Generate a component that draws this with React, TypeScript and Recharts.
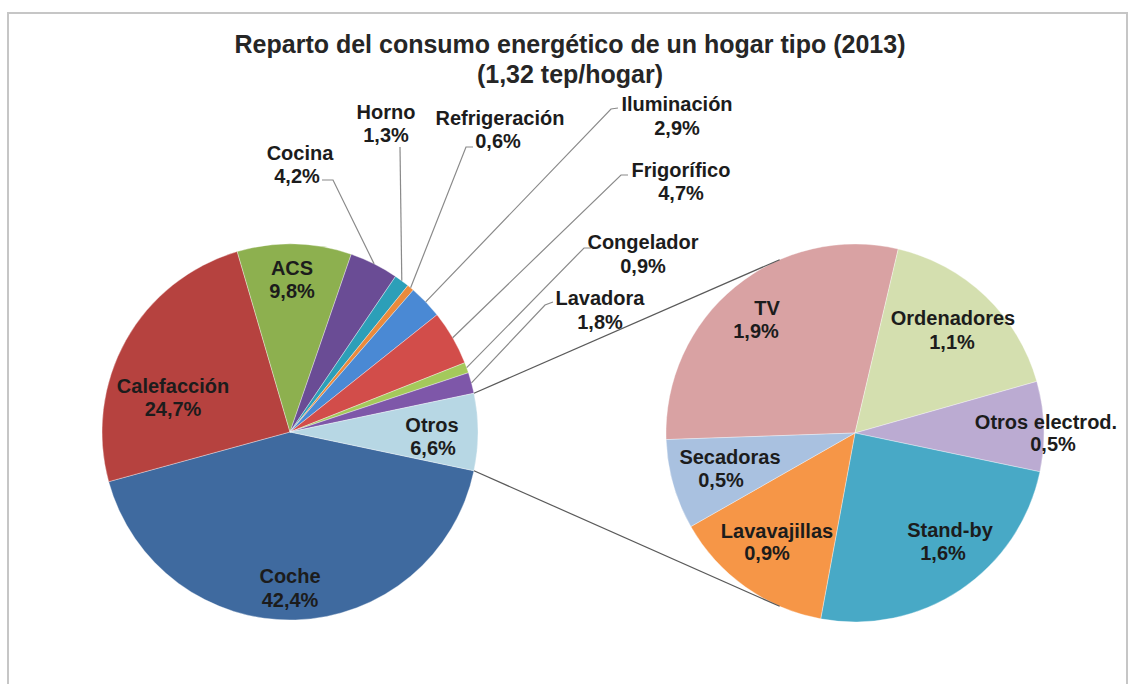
import React from "react"
import { PieChart, Pie, Cell } from "recharts"

// main pie, drawn clockwise starting with Coche, Otros is split out into the second pie
const mainNames = [
  "Coche",
  "Calefacción",
  "ACS",
  "Cocina",
  "Horno",
  "Refrigeración",
  "Iluminación",
  "Frigorífico",
  "Congelador",
  "Lavadora",
  "Otros",
]
const mainValues = [42.4, 24.7, 9.8, 4.2, 1.3, 0.6, 2.9, 4.7, 0.9, 1.8, 6.6]
const mainColors = [
  "#3f6a9f",
  "#b6423f",
  "#8db04f",
  "#6a4c95",
  "#2c9fb8",
  "#ea8a3c",
  "#4a89d4",
  "#d24d4a",
  "#a4c95b",
  "#7e57a9",
  "#b7d7e4",
]

// second pie (breakdown of Otros)
const subNames = ["TV", "Ordenadores", "Otros electrod.", "Stand-by", "Lavavajillas", "Secadoras"]
const subValues = [1.9, 1.1, 0.5, 1.6, 0.9, 0.5]
const subColors = ["#d9a2a3", "#d4dfaf", "#bbabd2", "#48a9c6", "#f69647", "#a9c1e0"]

const titleLines = ["Reparto del consumo energético de un hogar tipo (2013)", "(1,32 tep/hogar)"]

const mainData = mainNames.map((name, i) => ({ name, value: mainValues[i] }))
const subData = subNames.map((name, i) => ({ name, value: subValues[i] }))

// layout
const W = 1131
const H = 684
const MAIN = { cx: 290, cy: 432, r: 188 }
const SUB = { cx: 855, cy: 433, r: 189 }
const SUB_START = 182
const JOIN_ANGLE = 113.5
const FONT = "'Liberation Sans', Arial, sans-serif"

type LabelSpot = { a: [number, number]; b: [number, number]; lead?: [number, number][] }

// label centres (Excel labels were dragged by hand)
const labelSpots: Record<string, LabelSpot> = {
  Coche: { a: [290, 576], b: [290, 600] },
  "Calefacción": { a: [173, 386], b: [173, 409] },
  ACS: { a: [292, 268], b: [292, 291] },
  Otros: { a: [432, 425], b: [433, 448] },
  Cocina: { a: [300, 153], b: [297, 176], lead: [[322, 180], [333, 180]] },
  Horno: { a: [386, 112], b: [386, 135], lead: [[400, 147]] },
  "Refrigeración": { a: [500, 118], b: [498, 141], lead: [[473, 147], [466, 147]] },
  "Iluminación": { a: [677, 104], b: [677, 128], lead: [[618, 108], [611, 109]] },
  "Frigorífico": { a: [681, 170], b: [681, 193], lead: [[628, 175], [621, 175]] },
  Congelador: { a: [643, 242], b: [643, 266], lead: [[591, 248], [584, 248]] },
  Lavadora: { a: [600, 298], b: [600, 322], lead: [[553, 302], [545, 305]] },
  TV: { a: [767, 308], b: [756, 331] },
  Ordenadores: { a: [953, 318], b: [952, 342] },
  "Otros electrod.": { a: [1046, 422], b: [1053, 444] },
  "Stand-by": { a: [950, 530], b: [943, 553] },
  Lavavajillas: { a: [777, 531], b: [767, 553] },
  Secadoras: { a: [730, 457], b: [721, 480] },
}

const RAD = Math.PI / 180
const pt = (cx: number, cy: number, r: number, deg: number): [number, number] => [
  cx + r * Math.cos(-deg * RAD),
  cy + r * Math.sin(-deg * RAD),
]

const pct = (v: number) => `${v.toFixed(1).replace(".", ",")}%`

const mainTotal = mainValues.reduce((s, v) => s + v, 0)
const otrosHalf = ((mainValues[mainValues.length - 1] / mainTotal) * 360) / 2

function SliceLabel(p: any) {
  const spot = labelSpots[p.name]
  if (!spot) return null
  const edge = pt(p.cx, p.cy, p.outerRadius, p.midAngle)
  const textStyle = { fontFamily: FONT, fontWeight: 700, fontSize: 20, fill: "#1c1c1c" }
  let connectors = null
  if (p.name === "Otros") {
    const hi = Math.max(p.startAngle, p.endAngle)
    const lo = Math.min(p.startAngle, p.endAngle)
    const t1 = pt(p.cx, p.cy, p.outerRadius, hi)
    const t2 = pt(SUB.cx, SUB.cy, SUB.r, JOIN_ANGLE)
    const b1 = pt(p.cx, p.cy, p.outerRadius, lo)
    const b2 = pt(SUB.cx, SUB.cy, SUB.r, -JOIN_ANGLE)
    connectors = (
      <g stroke="#5a5a5a" strokeWidth={1.2}>
        <line x1={t1[0]} y1={t1[1]} x2={t2[0]} y2={t2[1]} />
        <line x1={b1[0]} y1={b1[1]} x2={b2[0]} y2={b2[1]} />
      </g>
    )
  }
  return (
    <g>
      {connectors}
      {spot.lead && (
        <polyline
          points={[...spot.lead, edge].map((q) => q.join(",")).join(" ")}
          fill="none"
          stroke="#8a8a8a"
          strokeWidth={1.2}
        />
      )}
      <text x={spot.a[0]} y={spot.a[1] + 7} textAnchor="middle" style={textStyle}>
        {p.name}
      </text>
      <text x={spot.b[0]} y={spot.b[1] + 7} textAnchor="middle" style={textStyle}>
        {pct(p.value)}
      </text>
    </g>
  )
}

export default function App() {
  return (
    <div style={{ position: "absolute", left: 0, top: 0, width: W, height: H, background: "#fff", overflow: "hidden" }}>
      <div
        style={{
          position: "absolute",
          left: 7,
          top: 12,
          width: W - 10,
          height: H + 20,
          border: "2px solid #c6c6c6",
          boxSizing: "border-box",
        }}
      />
      <div
        style={{
          position: "absolute",
          left: 0,
          top: 29,
          width: 1140,
          textAlign: "center",
          fontFamily: FONT,
          fontWeight: 700,
          fontSize: 25,
          lineHeight: "30px",
          color: "#262626",
        }}
      >
        {titleLines.map((t) => (
          <div key={t}>{t}</div>
        ))}
      </div>
      <div style={{ position: "absolute", left: 0, top: 0 }}>
        <PieChart width={W} height={H} margin={{ top: 0, right: 0, bottom: 0, left: 0 }}>
          <Pie
            data={mainData}
            dataKey="value"
            nameKey="name"
            cx={MAIN.cx}
            cy={MAIN.cy}
            outerRadius={MAIN.r}
            startAngle={-otrosHalf}
            endAngle={-otrosHalf - 360}
            stroke="rgba(255,255,255,0.35)"
            strokeWidth={1}
            label={SliceLabel}
            labelLine={false}
            isAnimationActive={false}
          >
            {mainData.map((d, i) => (
              <Cell key={d.name} fill={mainColors[i]} />
            ))}
          </Pie>
          <Pie
            data={subData}
            dataKey="value"
            nameKey="name"
            cx={SUB.cx}
            cy={SUB.cy}
            outerRadius={SUB.r}
            startAngle={SUB_START}
            endAngle={SUB_START - 360}
            stroke="rgba(255,255,255,0.35)"
            strokeWidth={1}
            label={SliceLabel}
            labelLine={false}
            isAnimationActive={false}
          >
            {subData.map((d, i) => (
              <Cell key={d.name} fill={subColors[i]} />
            ))}
          </Pie>
        </PieChart>
      </div>
    </div>
  )
}
